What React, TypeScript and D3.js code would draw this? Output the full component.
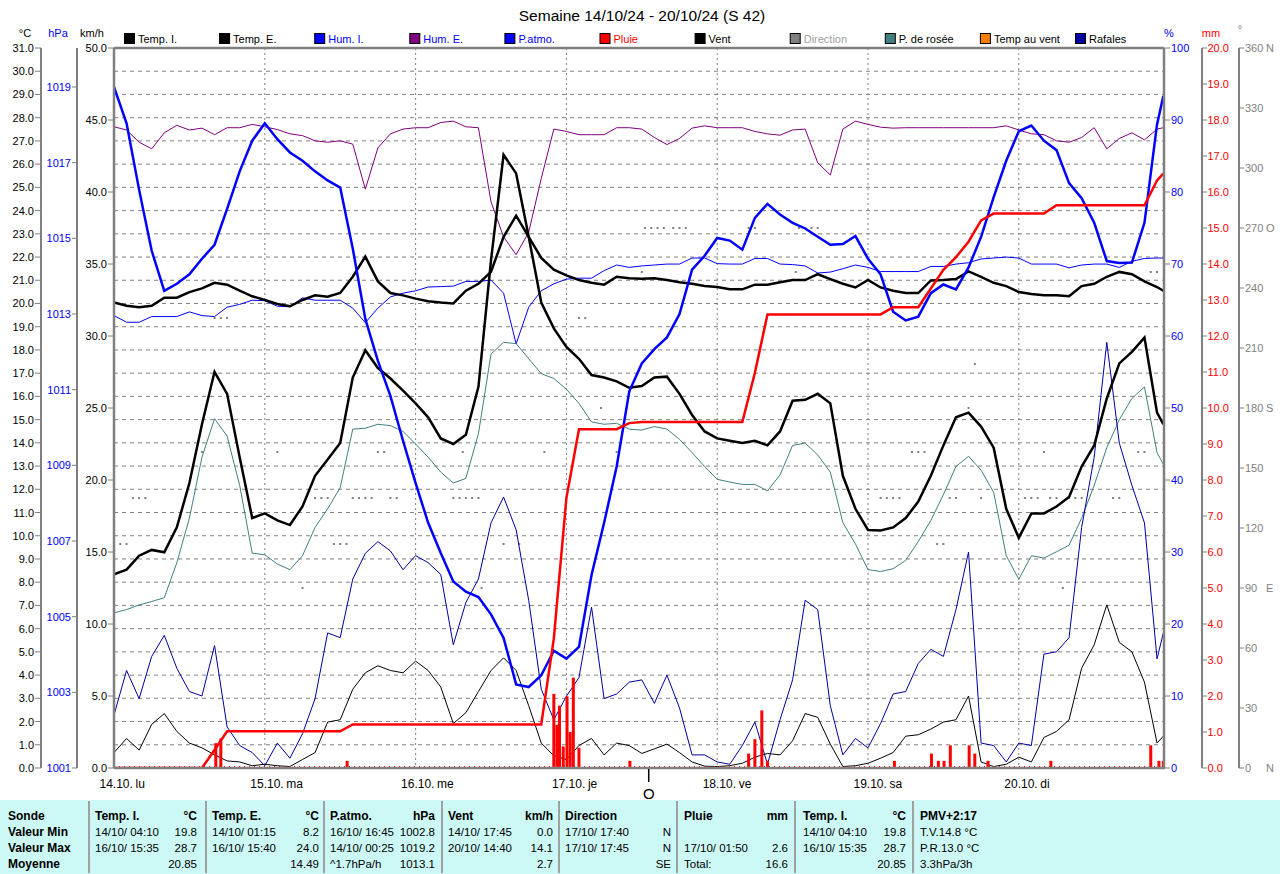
import React from "react";
import * as d3 from "d3";

// ---------- DATA ----------
const hours = [
  0, 2, 4, 6, 8, 10, 12, 14, 16, 18, 20, 22,
  24, 26, 28, 30, 32, 34, 36, 38, 40, 42, 44, 46,
  48, 50, 52, 54, 56, 58, 60, 62, 64, 66, 68, 70,
  72, 74, 76, 78, 80, 82, 84, 86, 88, 90, 92, 94,
  96, 98, 100, 102, 104, 106, 108, 110, 112, 114, 116, 118,
  120, 122, 124, 126, 128, 130, 132, 134, 136, 138, 140, 142,
  144, 146, 148, 150, 152, 154, 156, 158, 160, 162, 164, 166,
  167,
];

const tempI = [
  20.04, 19.9, 19.84, 19.9, 20.25, 20.25, 20.49, 20.65, 20.89, 20.81, 20.55, 20.31,
  20.15, 19.98, 19.88, 20.15, 20.35, 20.29, 20.45, 21.15, 22.02, 20.95, 20.45, 20.35,
  20.21, 20.1, 20.04, 20.0, 20.55, 20.85, 21.36, 22.87, 23.78, 22.87, 21.96, 21.46,
  21.21, 21.01, 20.89, 20.81, 21.15, 21.09, 21.07, 21.09, 21.01, 20.91, 20.85, 20.75,
  20.71, 20.61, 20.61, 20.81, 20.81, 20.91, 21.01, 21.01, 21.26, 21.05, 20.85, 20.69,
  21.01, 20.69, 20.55, 20.45, 20.45, 20.99, 21.01, 21.05, 21.38, 21.15, 20.89, 20.75,
  20.49, 20.41, 20.35, 20.35, 20.31, 20.75, 20.85, 21.15, 21.36, 21.26, 20.95, 20.71,
  20.55,
];

const tempE = [
  8.34, 8.54, 9.14, 9.39, 9.29, 10.36, 12.27, 14.8, 17.06, 16.11, 13.38, 10.76,
  10.96, 10.66, 10.46, 11.26, 12.58, 13.28, 13.99, 16.81, 17.99, 17.22, 16.77, 16.25,
  15.7, 15.1, 14.19, 13.95, 14.35, 16.41, 21.86, 26.4, 25.6, 22.87, 20.04, 18.93,
  18.13, 17.62, 16.92, 16.81, 16.65, 16.37, 16.45, 16.81, 16.85, 16.11, 15.2, 14.49,
  14.19, 14.09, 13.99, 14.09, 13.89, 14.49, 15.81, 15.85, 16.11, 15.7, 12.58, 11.16,
  10.25, 10.23, 10.36, 10.76, 11.47, 12.58, 13.89, 15.1, 15.3, 14.7, 13.79, 11.16,
  9.91, 10.96, 10.96, 11.26, 11.67, 12.98, 13.89, 15.91, 17.42, 17.92, 18.53, 15.3,
  14.8,
];

const dewPoint = [
  6.68, 6.82, 7.02, 7.17, 7.33, 8.84, 10.76, 13.38, 15.04, 14.29, 12.17, 9.25,
  9.18, 8.78, 8.54, 9.14, 10.36, 11.16, 12.07, 14.59, 14.63, 14.8, 14.74, 14.49,
  13.95, 13.38, 12.74, 12.27, 12.47, 14.39, 17.82, 18.33, 18.27, 17.62, 16.98, 16.77,
  16.31, 15.7, 14.9, 14.8, 14.84, 14.59, 14.55, 14.7, 14.59, 14.15, 13.58, 12.98,
  12.43, 12.31, 12.21, 12.21, 11.93, 12.62, 13.89, 13.99, 13.48, 12.74, 10.56, 9.65,
  8.54, 8.46, 8.58, 8.94, 9.75, 10.66, 11.77, 12.98, 13.42, 12.82, 11.87, 9.14,
  8.13, 9.14, 9.04, 9.31, 9.59, 10.76, 12.17, 13.79, 15.0, 15.91, 16.41, 13.58,
  13.08,
];

const pAtmo = [
  1019.0, 1018.04, 1016.28, 1014.67, 1013.61, 1013.8, 1014.05, 1014.46, 1014.83, 1015.78, 1016.77, 1017.58,
  1018.04, 1017.62, 1017.27, 1017.05, 1016.77, 1016.53, 1016.34, 1014.73, 1012.87, 1011.76, 1010.83, 1009.65,
  1008.53, 1007.48, 1006.68, 1005.93, 1005.66, 1005.52, 1005.06, 1004.44, 1003.21, 1003.14, 1003.45, 1004.1,
  1003.89, 1004.2, 1006.1, 1007.48, 1008.97, 1010.95, 1011.69, 1012.07, 1012.38, 1013.0, 1014.17, 1014.54,
  1015.01, 1014.94, 1014.7, 1015.54, 1015.91, 1015.63, 1015.41, 1015.26, 1015.04, 1014.83, 1014.85, 1015.06,
  1014.46, 1014.05, 1013.06, 1012.83, 1012.93, 1013.55, 1013.78, 1013.65, 1014.23, 1015.04, 1016.09, 1017.05,
  1017.83, 1017.98, 1017.58, 1017.33, 1016.46, 1016.06, 1015.41, 1014.4, 1014.35, 1014.36, 1015.41, 1018.01,
  1018.76,
];

const humE = [
  89.06, 88.61, 86.91, 86.0, 88.22, 89.26, 88.61, 88.87, 87.96, 88.93, 88.93, 89.39,
  89.06, 88.67, 88.08, 87.83, 87.11, 86.91, 87.11, 86.65, 80.4, 86.13, 88.08, 88.74,
  88.93, 88.93, 89.65, 89.84, 89.06, 88.93, 78.65, 73.76, 71.29, 74.4, 81.9, 88.74,
  88.41, 87.96, 87.96, 87.96, 88.93, 88.93, 88.74, 87.57, 86.59, 87.43, 88.87, 89.19,
  88.93, 88.93, 88.93, 88.41, 88.08, 87.89, 88.61, 88.74, 84.05, 82.36, 88.74, 89.84,
  89.39, 89.0, 88.87, 88.93, 88.93, 88.93, 88.93, 88.93, 88.93, 88.93, 88.93, 89.19,
  88.61, 88.08, 87.96, 87.11, 86.91, 87.57, 88.93, 86.0, 87.43, 88.22, 87.24, 88.74,
  88.93,
];

const humI = [
  62.83, 61.91, 61.91, 62.7, 62.7, 62.7, 63.35, 62.83, 62.7, 64.0, 64.39, 64.97,
  64.91, 64.13, 64.06, 65.3, 64.97, 64.97, 64.97, 63.87, 61.85, 63.87, 65.43, 65.95,
  66.28, 66.8, 66.86, 66.93, 67.58, 67.58, 67.77, 65.95, 58.9, 64.0, 66.28, 67.25,
  67.9, 68.03, 68.03, 69.08, 69.86, 69.53, 69.73, 69.86, 69.99, 69.99, 70.83, 70.83,
  70.05, 69.99, 69.99, 70.77, 70.77, 69.99, 69.92, 69.73, 68.75, 68.88, 69.34, 69.86,
  69.53, 68.95, 68.95, 68.95, 68.95, 69.66, 69.66, 69.99, 70.18, 70.7, 70.83, 70.96,
  70.83, 69.99, 69.99, 69.99, 69.47, 69.86, 69.99, 69.99, 69.53, 70.38, 70.77, 70.83,
  70.83,
];

const rainTotal = [
  0, 0, 0, 0, 0, 0, 0, 0, 0.5, 1.02, 1.02, 1.02,
  1.02, 1.02, 1.02, 1.02, 1.02, 1.02, 1.02, 1.21, 1.21, 1.21, 1.21, 1.21,
  1.21, 1.21, 1.21, 1.21, 1.21, 1.21, 1.21, 1.21, 1.21, 1.21, 1.21, 3.6,
  7.5, 9.41, 9.41, 9.41, 9.41, 9.58, 9.61, 9.61, 9.61, 9.61, 9.61, 9.61,
  9.61, 9.61, 9.61, 10.98, 12.6, 12.6, 12.6, 12.6, 12.6, 12.6, 12.6, 12.6,
  12.6, 12.6, 12.8, 12.8, 12.8, 13.32, 13.84, 14.19, 14.62, 15.21, 15.4, 15.4,
  15.4, 15.4, 15.4, 15.63, 15.63, 15.63, 15.63, 15.63, 15.63, 15.63, 15.63, 16.32,
  16.51,
];

const wind = [
  1.07, 2.05, 1.24, 3.03, 3.78, 2.54, 1.73, 1.4, 0.91, 0.49, 0.42, 0.16,
  0.26, 0.16, 0.1, 0.59, 1.07, 3.19, 3.35, 5.47, 6.61, 7.1, 6.77, 6.61,
  7.42, 6.77, 5.63, 3.09, 3.84, 5.31, 6.77, 7.65, 6.77, 4.33, 1.73, 0.85,
  0.59, 1.56, 2.05, 0.91, 1.73, 1.56, 1.01, 1.33, 1.66, 1.07, 0.42, 0.13,
  0.1, 0.16, 0.33, 0.75, 1.01, 0.91, 1.89, 3.78, 3.52, 1.66, 0.1, 0.16,
  0.33, 0.68, 1.07, 2.21, 2.31, 2.7, 3.19, 3.35, 5.0, 0.42, 0.1, 0.26,
  0.75, 0.42, 2.12, 2.54, 3.35, 6.93, 8.56, 11.33, 8.72, 8.07, 5.96, 1.73,
  2.21,
];

const gusts = [
  3.68, 6.77, 4.82, 7.75, 9.21, 6.93, 5.31, 5.0, 8.5, 2.86, 1.56, 1.07,
  0.16, 1.73, 0.68, 2.38, 4.82, 9.38, 9.05, 13.12, 14.91, 15.72, 15.07, 13.77,
  14.75, 14.26, 13.44, 8.56, 11.49, 13.12, 17.02, 18.82, 16.54, 11.65, 5.47, 3.35,
  4.98, 6.28, 11.17, 4.82, 5.14, 5.96, 6.12, 4.49, 6.45, 4.17, 0.91, 0.91,
  0.42, 0.26, 1.56, 3.19, 0.26, 3.35, 6.12, 11.65, 11.0, 4.33, 0.91, 2.05,
  1.4, 3.09, 5.14, 5.31, 7.26, 8.24, 7.75, 11.0, 15.0, 1.73, 1.56, 0.42,
  1.73, 1.56, 7.91, 8.07, 9.05, 16.7, 21.58, 29.56, 22.56, 19.63, 17.02, 7.58,
  9.38,
];

// rain amounts (bars): hour, mm
const rainBarHours = [16.2, 17.0, 37.1, 70.0, 70.5, 70.9, 71.5, 72.1, 72.6, 73.1, 74.0, 82.1,
  101.0, 102.0, 103.1, 104.0, 124.2, 130.1, 131.2, 132.1, 133.1, 136.1, 137.0, 139.1, 149.1,
  165.0, 166.3, 167.0];
const rainBarValues = [0.69, 0.82, 0.2, 2.06, 1.2, 1.73, 0.6, 1.99, 1.0, 2.51, 0.56, 0.2,
  0.4, 0.8, 1.6, 0.2, 0.2, 0.4, 0.2, 0.2, 0.63, 0.63, 0.4, 0.2, 0.2,
  0.63, 0.2, 0.2];

// wind direction dots: hour, degrees
const dirHours = [0, 1, 2, 3, 4, 5, 14, 16, 17, 18, 26, 30, 32, 33, 34, 35, 36, 37, 38, 39, 40, 41,
  42, 43, 44, 45, 54, 55, 55.5, 56, 57, 58, 58.5, 62, 64.5, 68.5, 74, 75, 77.5, 80, 84,
  84.5, 85.5, 86.5, 87.5, 89, 90, 91, 101, 102, 108.5, 109, 110, 111, 112,
  122, 123, 124, 125, 127, 128, 129, 131, 132, 133, 134, 136, 137, 138,
  145, 146, 147, 148, 149, 150, 151, 152, 153, 154, 159, 160, 163, 164, 165, 166];
const dirDegrees = [112, 112, 112, 135, 135, 135, 158, 225, 225, 225, 158, 90, 135, 135, 135, 112, 112, 112, 135, 135, 135, 135,
  158, 158, 135, 135, 135, 135, 158, 135, 135, 135, 90, 112, 112, 158, 225, 225, 180, 158, 248,
  270, 270, 270, 270, 270, 270, 270, 270, 270, 248, 270, 270, 270, 270,
  135, 135, 135, 135, 158, 158, 158, 112, 112, 135, 135, 180, 202, 135,
  135, 135, 135, 158, 135, 135, 90, 135, 135, 135, 135, 135, 158, 158, 248, 248];

const dayDates = ["14.10.", "15.10.", "16.10.", "17.10.", "18.10.", "19.10.", "20.10."];
const dayNames = ["lu", "ma", "me", "je", "ve", "sa", "di"];

const tempTicks = d3.range(0, 32, 1);
const hpaTicks = [1001, 1003, 1005, 1007, 1009, 1011, 1013, 1015, 1017, 1019];
const kmhTicks = [0, 5, 10, 15, 20, 25, 30, 35, 40, 45, 50];
const pctTicks = [0, 10, 20, 30, 40, 50, 60, 70, 80, 90, 100];
const mmTicks = d3.range(0, 21, 1);
const dirTicks = [0, 30, 60, 90, 120, 150, 180, 210, 240, 270, 300, 330, 360];
const compass: Record<number, string> = { 0: "N", 90: "E", 180: "S", 270: "O", 360: "N" };

const dirMarkerHour = 85.1;
const dirMarkerLabel = "O";

const legendItems = [
  { label: "Temp. I.", box: "#000000", text: "#000000" },
  { label: "Temp. E.", box: "#000000", text: "#000000" },
  { label: "Hum. I.", box: "#0000ff", text: "#0000ff" },
  { label: "Hum. E.", box: "#800080", text: "#0000ff" },
  { label: "P.atmo.", box: "#0000ff", text: "#0000ff" },
  { label: "Pluie", box: "#ff0000", text: "#ff0000" },
  { label: "Vent", box: "#000000", text: "#000000" },
  { label: "Direction", box: "#808080", text: "#a0a0a0" },
  { label: "P. de rosée", box: "#408080", text: "#000000" },
  { label: "Temp au vent", box: "#ff8000", text: "#000000" },
  { label: "Rafales", box: "#0000a0", text: "#000000" },
];

const tableCols = [
  { x: 8, r: 0, head: "Sonde", unit: "", rows: [["Valeur Min", ""], ["Valeur Max", ""], ["Moyenne", ""]], boldRows: true },
  { x: 95, r: 197, head: "Temp. I.", unit: "°C", rows: [["14/10/ 04:10", "19.8"], ["16/10/ 15:35", "28.7"], ["", "20.85"]] },
  { x: 212, r: 319, head: "Temp. E.", unit: "°C", rows: [["14/10/ 01:15", "8.2"], ["16/10/ 15:40", "24.0"], ["", "14.49"]] },
  { x: 330, r: 435, head: "P.atmo.", unit: "hPa", rows: [["16/10/ 16:45", "1002.8"], ["14/10/ 00:25", "1019.2"], ["^1.7hPa/h", "1013.1"]] },
  { x: 448, r: 553, head: "Vent", unit: "km/h", rows: [["14/10/ 17:45", "0.0"], ["20/10/ 14:40", "14.1"], ["", "2.7"]] },
  { x: 565, r: 671, head: "Direction", unit: "", rows: [["17/10/ 17:40", "N"], ["17/10/ 17:45", "N"], ["", "SE"]] },
  { x: 684, r: 788, head: "Pluie", unit: "mm", rows: [["", ""], ["17/10/ 01:50", "2.6"], ["Total:", "16.6"]] },
  { x: 803, r: 906, head: "Temp. I.", unit: "°C", rows: [["14/10/ 04:10", "19.8"], ["16/10/ 15:35", "28.7"], ["", "20.85"]] },
  { x: 920, r: 0, head: "PMV+2:17", unit: "", rows: [["T.V.14.8 °C", ""], ["P.R.13.0 °C", ""], ["3.3hPa/3h", ""]] },
];
const tableSeparators = [89, 206, 324, 442, 559, 677, 795, 913];

// ---------- CHART ----------
const FONT = "'Liberation Sans', Arial, sans-serif";
const L = 114, R = 1164, T = 48, B = 768;
const HOUR_PX = 150.8 / 24;

export default function App() {
  const x = d3.scaleLinear().domain([0, 168]).range([L, L + 168 * HOUR_PX]);
  const yTemp = d3.scaleLinear().domain([0, 31]).range([B, T]);
  const yHpa = d3.scaleLinear().domain([1001, 1020.03]).range([B, T]);
  const yKmh = d3.scaleLinear().domain([0, 50]).range([B, T]);
  const yPct = d3.scaleLinear().domain([0, 100]).range([B, T]);
  const yMm = d3.scaleLinear().domain([0, 20]).range([B, T]);
  const yDir = d3.scaleLinear().domain([0, 360]).range([B, T]);

  const mk = (vals: number[], y: d3.ScaleLinear<number, number>) =>
    d3.line<number>().x((_, i) => x(hours[i])).y((d) => y(d))(vals) || "";

  const f1 = d3.format(".1f");
  const gray = "#808080";

  return (
    <svg width={1280} height={874} style={{ position: "absolute", left: 0, top: 0, background: "#fff" }}
      fontFamily={FONT}>
      <rect x={0} y={0} width={1280} height={874} fill="#ffffff" />
      <defs>
        <clipPath id="plot"><rect x={L} y={T} width={R - L} height={B - T} /></clipPath>
      </defs>

      {/* title */}
      <text x={642} y={21} fontSize={15.5} textAnchor="middle" fill="#000">Semaine 14/10/24 - 20/10/24 (S 42)</text>

      {/* units */}
      <text x={25} y={37} fontSize={11} textAnchor="middle">°C</text>
      <text x={58} y={37} fontSize={11} textAnchor="middle" fill="#0000ff">hPa</text>
      <text x={92} y={37} fontSize={11} textAnchor="middle">km/h</text>
      <text x={1169} y={37} fontSize={11} textAnchor="middle" fill="#0000ff">%</text>
      <text x={1211} y={37} fontSize={11} textAnchor="middle" fill="#ff0000">mm</text>
      <text x={1240} y={33} fontSize={11} textAnchor="middle" fill={gray}>°</text>

      {/* legend */}
      {legendItems.map((it, i) => {
        const bx = 124 + 95.1 * i;
        return (
          <g key={it.label}>
            <rect x={bx + 0.5} y={33.5} width={10} height={10} fill={it.box} stroke="#000" strokeWidth={1} />
            <text x={bx + 14} y={42.5} fontSize={11} fill={it.text}>{it.label}</text>
          </g>
        );
      })}

      {/* grid */}
      {tempTicks.filter((t) => t > 0 && t < 31).map((t) => (
        <line key={"hg" + t} x1={L} x2={R} y1={yTemp(t)} y2={yTemp(t)} stroke={gray} strokeWidth={1} strokeDasharray="4,4" />
      ))}
      {dayDates.map((d, i) => i > 0 && (
        <line key={"vg" + i} x1={x(i * 24)} x2={x(i * 24)} y1={T} y2={B} stroke={gray} strokeWidth={1} strokeDasharray="2,3" />
      ))}

      {/* left axes */}
      <line x1={41} x2={41} y1={T} y2={B} stroke={gray} strokeWidth={2} />
      {tempTicks.map((t) => (
        <g key={"tt" + t}>
          <line x1={35} x2={41} y1={yTemp(t)} y2={yTemp(t)} stroke={gray} strokeWidth={1} />
          <text x={34} y={yTemp(t) + 4} fontSize={11} textAnchor="end">{f1(t)}</text>
        </g>
      ))}
      <line x1={77} x2={77} y1={T} y2={B} stroke={gray} strokeWidth={2} />
      {hpaTicks.map((t) => (
        <g key={"hp" + t}>
          <line x1={72} x2={77} y1={yHpa(t)} y2={yHpa(t)} stroke={gray} strokeWidth={1} />
          <text x={71} y={yHpa(t) + 4} fontSize={11} textAnchor="end" fill="#0000ff">{t}</text>
        </g>
      ))}
      {kmhTicks.map((t) => (
        <g key={"km" + t}>
          <line x1={108} x2={L} y1={yKmh(t)} y2={yKmh(t)} stroke={gray} strokeWidth={1} />
          <text x={107} y={yKmh(t) + 4} fontSize={11} textAnchor="end">{f1(t)}</text>
        </g>
      ))}

      {/* right axes */}
      {pctTicks.map((t) => (
        <g key={"pc" + t}>
          <line x1={R} x2={R + 6} y1={yPct(t)} y2={yPct(t)} stroke={gray} strokeWidth={1} />
          <text x={R + 7} y={yPct(t) + 4} fontSize={11} fill="#0000ff">{t}</text>
        </g>
      ))}
      <line x1={1202} x2={1202} y1={T} y2={B} stroke={gray} strokeWidth={2} />
      {mmTicks.map((t) => (
        <g key={"mm" + t}>
          <line x1={1202} x2={1207} y1={yMm(t)} y2={yMm(t)} stroke={gray} strokeWidth={1} />
          <text x={1207.5} y={yMm(t) + 4} fontSize={11} fill="#ff0000">{f1(t)}</text>
        </g>
      ))}
      <line x1={1239} x2={1239} y1={T} y2={B} stroke={gray} strokeWidth={2} />
      {dirTicks.map((t) => (
        <g key={"dr" + t}>
          <line x1={1239} x2={1244} y1={yDir(t)} y2={yDir(t)} stroke={gray} strokeWidth={1} />
          <text x={1245} y={yDir(t) + 4} fontSize={11} fill={gray}>{t}</text>
          {compass[t] && <text x={1266} y={yDir(t) + 4} fontSize={11} fill={gray}>{compass[t]}</text>}
        </g>
      ))}

      {/* series */}
      <g clipPath="url(#plot)">
        {dirHours.map((h, i) => (
          <rect key={"dd" + i} x={x(h) - 1} y={yDir(dirDegrees[i]) - 1} width={2} height={2} fill={gray} />
        ))}
        <path d={mk(humE, yPct)} fill="none" stroke="#800080" strokeWidth={1} />
        <path d={mk(humI, yPct)} fill="none" stroke="#0000ff" strokeWidth={1} />
        <path d={mk(dewPoint, yTemp)} fill="none" stroke="#408080" strokeWidth={1} />
        <path d={mk(gusts, yKmh)} fill="none" stroke="#0000a0" strokeWidth={1} />
        <path d={mk(wind, yKmh)} fill="none" stroke="#000000" strokeWidth={1} />
        <path d={mk(tempI, yTemp)} fill="none" stroke="#000000" strokeWidth={2.5} />
        <path d={mk(tempE, yTemp)} fill="none" stroke="#000000" strokeWidth={2.5} />
        <path d={mk(pAtmo, yHpa)} fill="none" stroke="#0000ff" strokeWidth={2.5} />
        <path d={mk(rainTotal, yMm)} fill="none" stroke="#ff0000" strokeWidth={2.5} />
        {rainBarHours.map((h, i) => (
          <rect key={"rb" + i} x={x(h) - 1.5} y={yMm(rainBarValues[i])} width={3}
            height={B - yMm(rainBarValues[i])} fill="#ff0000" />
        ))}
        <line x1={L} x2={R} y1={B - 1.5} y2={B - 1.5} stroke="#ff0000" strokeWidth={1} strokeDasharray="1,4" />
      </g>

      {/* frame */}
      <line x1={L} x2={R} y1={T} y2={T} stroke={gray} strokeWidth={2.5} />
      <line x1={L} x2={R + 1} y1={B} y2={B} stroke={gray} strokeWidth={2.5} />
      <line x1={L} x2={L} y1={T} y2={B} stroke={gray} strokeWidth={2.5} />
      <line x1={R} x2={R} y1={T} y2={B} stroke={gray} strokeWidth={2.5} />

      {/* x labels */}
      {dayDates.map((d, i) => (
        <g key={"dl" + i}>
          <text x={x(i * 24) - 14.5} y={788} fontSize={12}>{d}</text>
          <text x={x(i * 24) + 21.5} y={788} fontSize={12}>{dayNames[i]}</text>
        </g>
      ))}
      <line x1={x(dirMarkerHour)} x2={x(dirMarkerHour)} y1={769} y2={782} stroke="#000" strokeWidth={1.5} />
      <text x={x(dirMarkerHour)} y={799} fontSize={15} textAnchor="middle">{dirMarkerLabel}</text>

      {/* table */}
      <rect x={0} y={800} width={1280} height={74} fill="#ccf8f5" />
      {tableSeparators.map((sx) => (
        <line key={"ts" + sx} x1={sx} x2={sx} y1={801} y2={873} stroke="#a0a0a0" strokeWidth={2} />
      ))}
      {tableCols.map((c, ci) => (
        <g key={"tc" + ci}>
          <text x={c.x} y={820} fontWeight="bold" fontSize={12}>{c.head}</text>
          {c.unit && <text x={c.r} y={820} fontWeight="bold" fontSize={12} textAnchor="end">{c.unit}</text>}
          {c.rows.map((r, ri) => (
            <g key={"r" + ri}>
              {r[0] && <text x={c.x} y={836 + ri * 16} fontSize={c.boldRows ? 12 : 11.5}
                fontWeight={c.boldRows ? "bold" : "normal"}>{r[0]}</text>}
              {r[1] && <text x={c.r} y={836 + ri * 16} fontSize={11.5} textAnchor="end">{r[1]}</text>}
            </g>
          ))}
        </g>
      ))}
    </svg>
  );
}
